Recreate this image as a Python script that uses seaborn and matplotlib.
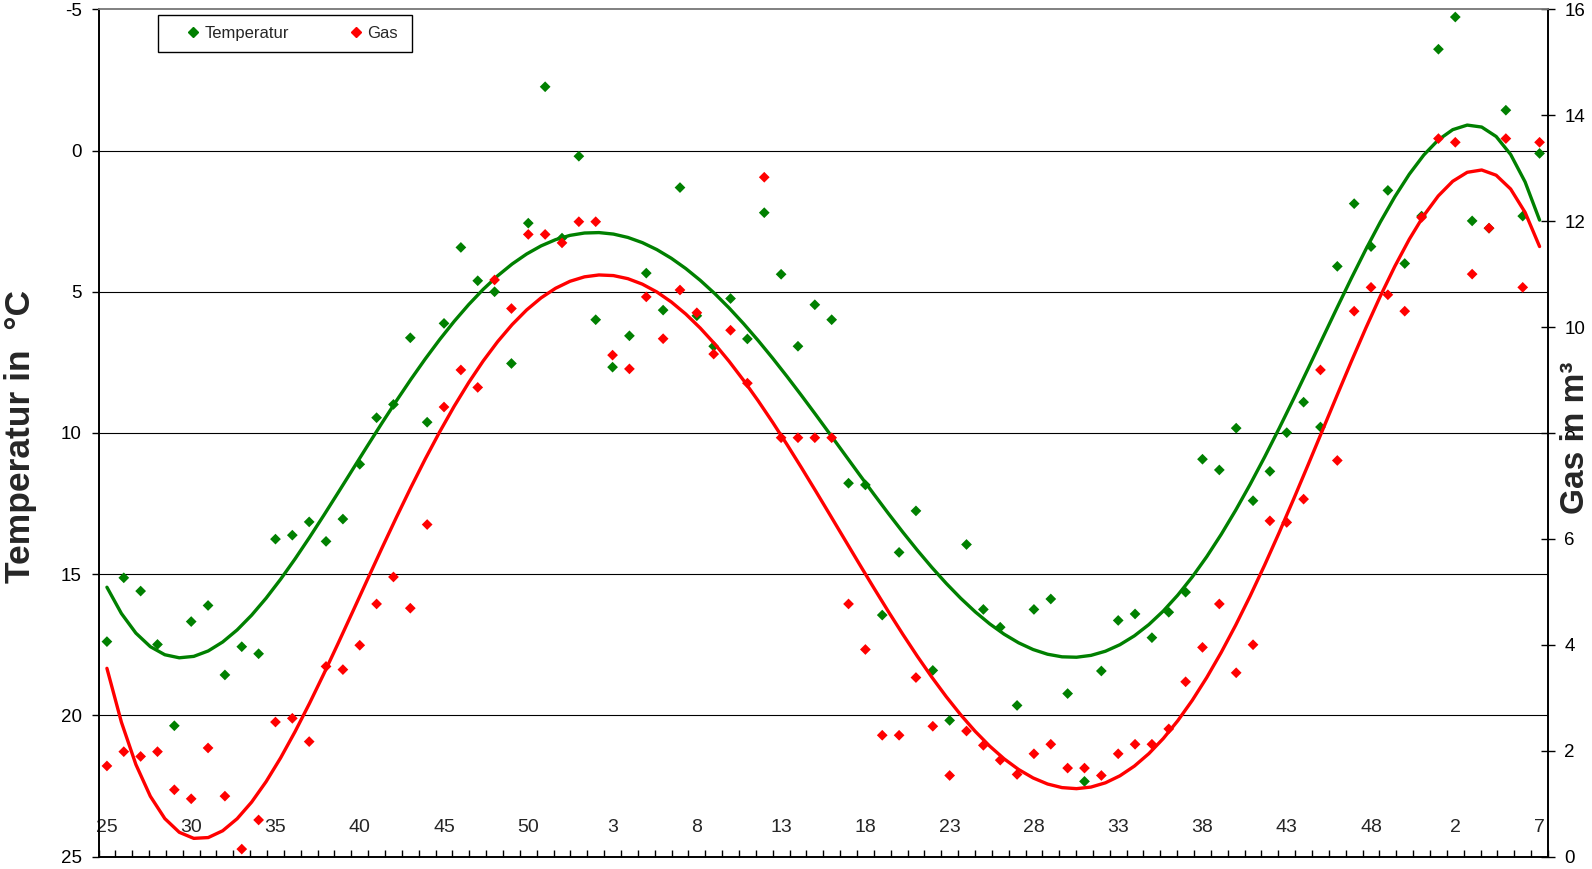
import numpy as np
import matplotlib
matplotlib.use("Agg")
import matplotlib.pyplot as plt
import seaborn as sns
from matplotlib.lines import Line2D
from matplotlib.patches import Rectangle

# ---- data ----
weeks = list(range(25, 53)) + list(range(1, 53)) + list(range(2, 8))

temperatur = [17.39, 15.13, 15.60, 17.49, 20.37, 16.68, 16.11, 18.57, 17.57, 17.82,
              13.76, 13.62, 13.15, 13.84, 13.05, 11.11, 9.46, 8.99, 6.63, 9.62,
              6.12, 3.43, 4.61, 5.00, 7.54, 2.57, -2.26, 3.10, 0.20, 5.99,
              7.67, 6.56, 4.34, 5.65, 1.31, 5.85, 6.93, 5.24, 6.67, 2.20,
              4.38, 6.93, 5.46, 5.99, 11.78, 11.84, 16.45, 14.23, 12.76, 18.41,
              20.18, 13.95, 16.25, 16.88, 19.65, 16.25, 15.88, 19.23, 22.34, 18.43,
              16.64, 16.41, 17.25, 16.35, 15.64, 10.93, 11.31, 9.83, 12.40, 11.36,
              9.99, 8.91, 9.79, 4.10, 1.88, 3.40, 1.41, 4.00, 2.32, -3.59,
              -4.73, 2.49, 2.75, -1.43, 2.32, 0.10]

gas = [1.71, 1.98, 1.89, 1.98, 1.26, 1.09, 2.05, 1.14, 0.14, 0.69,
       2.54, 2.61, 2.17, 3.59, 3.53, 3.99, 4.77, 5.28, 4.69, 6.27,
       8.49, 9.19, 8.86, 10.89, 10.35, 11.75, 11.75, 11.59, 11.99, 11.99,
       9.47, 9.21, 10.57, 9.78, 10.70, 10.27, 9.49, 9.94, 8.94, 12.83,
       7.91, 7.91, 7.91, 7.91, 4.77, 3.91, 2.29, 2.29, 3.38, 2.46,
       1.53, 2.37, 2.10, 1.82, 1.55, 1.94, 2.12, 1.67, 1.67, 1.53,
       1.94, 2.12, 2.12, 2.41, 3.30, 3.95, 4.77, 3.47, 4.00, 6.34,
       6.31, 6.75, 9.19, 7.48, 10.30, 10.75, 10.61, 10.30, 12.07, 13.56,
       13.49, 11.00, 11.87, 13.56, 10.75, 13.49]

series_names = ["Temperatur", "Gas"]
GREEN = "#008000"
RED = "#FF0000"

sns.set_style("white")
plt.rcParams['font.family'] = ['Liberation Sans', 'DejaVu Sans']
plt.rcParams['axes.unicode_minus'] = False

W, H = 1592, 869
fig = plt.figure(figsize=(W / 100, H / 100), dpi=100)
L, R, T, B = 98.5, 1548.0, 9.4, 856.5
ax = fig.add_axes([L / W, 1 - B / H, (R - L) / W, (B - T) / H])
ax2 = ax.twinx()

x = np.arange(len(weeks))
sc_kws = dict(s=30, alpha=1, edgecolors='none', zorder=3)
sns.regplot(x=x, y=temperatur, order=6, ci=None, ax=ax, color=GREEN, marker='D',
            scatter_kws=sc_kws, line_kws=dict(lw=2.4, zorder=2))
sns.regplot(x=x, y=gas, order=6, ci=None, ax=ax2, color=RED, marker='D',
            scatter_kws=sc_kws, line_kws=dict(lw=2.4, zorder=2))

ax.set_xlim(-0.5, len(weeks) - 0.5)
ax.set_ylim(25, -5)
ax2.set_ylim(0, 16)
ax.set_xlabel("")
ax.set_ylabel("")
ax2.set_ylabel("")

# y axes
ax.set_yticks(np.arange(-5, 26, 5))
ax.tick_params(axis='y', which='major', left=True, direction='out', length=5,
               width=1, pad=7, labelsize=13.5, colors='black')
ax2.set_yticks(np.arange(0, 17, 2))
ax2.tick_params(axis='y', which='major', right=True, direction='inout', length=9.5,
                width=1, pad=7, labelsize=13.5, colors='black')

# x axis: labels every 5th category, small ticks between categories
ax.set_xticks(x[::5])
ax.set_xticklabels([str(w) for w in weeks[::5]])
ax.set_xticks(np.arange(-0.5, len(weeks), 1), minor=True)
ax.tick_params(axis='x', which='major', bottom=True, length=0, pad=-27, labelsize=14)
ax.tick_params(axis='x', which='minor', bottom=True, direction='in', length=5,
               width=1, color='black')

# grid lines
ax.yaxis.grid(True, color='black', lw=0.8)
ax.xaxis.grid(False)
ax2.grid(False)
ticks = ax.yaxis.get_major_ticks()
ticks[0].gridline.set_visible(False)
ticks[-1].gridline.set_visible(False)

for sp in ['left', 'bottom', 'right']:
    ax.spines[sp].set_color('black')
    ax.spines[sp].set_linewidth(1.2)
    ax2.spines[sp].set_color('black')
    ax2.spines[sp].set_linewidth(1.2)
ax.spines['top'].set_color('#808080')
ax2.spines['top'].set_color('#808080')
ax.spines['top'].set_linewidth(1.2)
ax2.spines['top'].set_linewidth(1.2)

# axis titles
fig.text(21 / W, 1 - 436.5 / H, "Temperatur in  °C", rotation=90, ha='center',
         va='center', fontsize=25.5, fontweight='bold')
fig.text(1576 / W, 1 - 438 / H, "Gas in m³", rotation=90, ha='center',
         va='center', fontsize=24, fontweight='bold')

# legend
handles = [Line2D([], [], ls='none', marker='D', color=GREEN, markersize=5.5),
           Line2D([], [], ls='none', marker='D', color=RED, markersize=5.5)]
ax2.add_patch(Rectangle((0.041, 0.9497), 0.1752, 0.0437, transform=ax2.transAxes,
                        facecolor='white', edgecolor='black', lw=1, zorder=4,
                        clip_on=False))
leg = ax2.legend(handles, series_names, loc='center left',
                 bbox_to_anchor=(0.0604, 0.9718), ncol=2, frameon=False,
                 borderpad=0, borderaxespad=0, handlelength=0.8,
                 handletextpad=0.3, columnspacing=3.6, fontsize=12)
leg.set_zorder(5)

fig.savefig("out.png", dpi=100)
